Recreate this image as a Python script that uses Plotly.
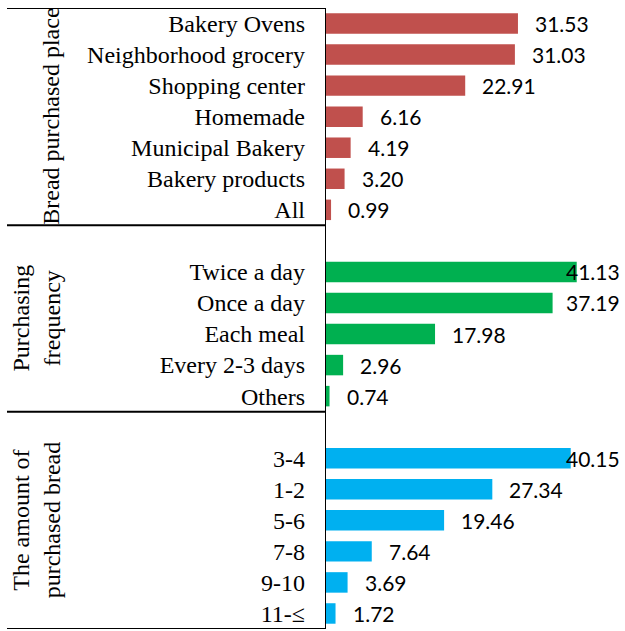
import plotly.graph_objects as go

# Survey results (%), one block per question
place_labels = ["Bakery Ovens", "Neighborhood grocery", "Shopping center", "Homemade",
                "Municipal Bakery", "Bakery products", "All"]
place_values = [31.53, 31.03, 22.91, 6.16, 4.19, 3.20, 0.99]

freq_labels = ["Twice a day", "Once a day", "Each meal", "Every 2-3 days", "Others"]
freq_values = [41.13, 37.19, 17.98, 2.96, 0.74]

amount_labels = ["3-4", "1-2", "5-6", "7-8", "9-10", "11-≤"]
amount_values = [40.15, 27.34, 19.46, 7.64, 3.69, 1.72]

group_titles = ["Bread purchased place", "Purchasing<br>frequency", "The amount of<br>purchased bread"]
group_colors = ["#C0504D", "#00B050", "#00B0F0"]

groups = [
    (place_labels, place_values),
    (freq_labels, freq_values),
    (amount_labels, amount_values),
]

SERIF = "Liberation Serif, Times New Roman, serif"

# Geometry of the canvas (pixels)
W, H = 625, 631
M_L, M_R, M_T, M_B = 325, 0, 8, 2
PX_PER_UNIT = 6.12
plot_w = W - M_L - M_R
x_max = plot_w / PX_PER_UNIT
label_right_px = 622  # value labels are kept inside this edge

fig = go.Figure()

tickvals, ticktext = [], []
separators = [-0.5]
title_centers = []
pos = 0
for gi, (labels, values) in enumerate(groups):
    if gi > 0:
        pos += 1  # blank row between blocks
    start = separators[-1]
    ys = list(range(pos, pos + len(labels)))
    pos += len(labels)
    end = ys[-1] + 0.5
    separators.append(end)
    title_centers.append((start + end) / 2)
    tickvals += ys
    ticktext += labels
    fig.add_trace(go.Bar(
        x=values, y=ys, orientation="h",
        marker=dict(color=group_colors[gi], line=dict(width=0)),
        width=0.66, showlegend=False, hoverinfo="x+y",
    ))
    for v, y in zip(values, ys):
        end_px = v * PX_PER_UNIT
        if M_L + end_px + 16 + 54 > label_right_px:
            fig.add_annotation(x=(label_right_px - M_L) / plot_w, xref="paper", y=y, yref="y",
                               text=f"{v:.2f}", showarrow=False, xanchor="right",
                               font=dict(family="Lato", size=21, color="black"))
        else:
            fig.add_annotation(x=v, xref="x", y=y, yref="y", xshift=15,
                               text=f"{v:.2f}", showarrow=False, xanchor="left",
                               font=dict(family="Lato", size=21, color="black"))

# Block titles, rotated
title_x_px = [51, 36, 36]
for t, yc, xp in zip(group_titles, title_centers, title_x_px):
    fig.add_annotation(x=(xp - M_L) / plot_w, xref="paper", y=yc, yref="y",
                       text=t, showarrow=False, textangle=-90,
                       xanchor="center", yanchor="middle",
                       font=dict(family=SERIF, size=24, color="black"))

# Frame lines: block separators and the value axis
left_px = 7
for s in separators:
    fig.add_shape(type="line", xref="paper", yref="y",
                  x0=(left_px - M_L) / plot_w, x1=0, y0=s, y1=s,
                  line=dict(color="black", width=2))
fig.add_shape(type="line", xref="x", yref="y", x0=0, x1=0,
              y0=separators[0], y1=separators[-1], line=dict(color="black", width=2))

fig.update_layout(
    width=W, height=H,
    font=dict(family=SERIF, size=24, color="black"),
    margin=dict(l=M_L, r=M_R, t=M_T, b=M_B, autoexpand=False),
    paper_bgcolor="white", plot_bgcolor="white",
    bargap=0.34,
    xaxis=dict(range=[0, x_max], visible=False, showgrid=False, zeroline=False, fixedrange=True),
    yaxis=dict(range=[separators[-1], separators[0]], tickmode="array",
               tickvals=tickvals, ticktext=ticktext, showgrid=False, zeroline=False,
               showline=False, ticks="", ticklabelstandoff=19, automargin=False,
               tickfont=dict(family=SERIF, size=24, color="black")),
)

fig.write_html("out.html")
